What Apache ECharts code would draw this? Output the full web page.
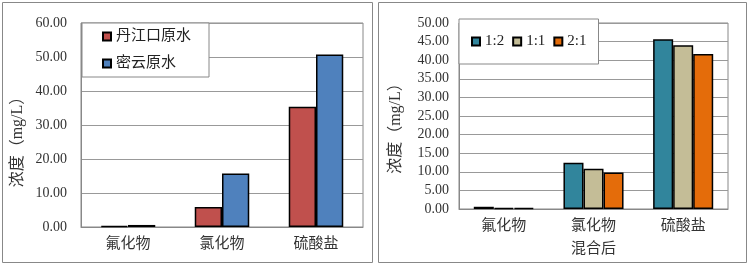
<!DOCTYPE html>
<html>
<head>
<meta charset="utf-8">
<script src="https://cdn.jsdelivr.net/npm/echarts@6/dist/echarts.min.js"></script>
<style>
html, body { margin: 0; padding: 0; background: #fff; }
#main { width: 749px; height: 265px; }
</style>
</head>
<body>
<div id="main"></div>
<script>
// 原水 (left panel)
var categories = ['氟化物', '氯化物', '硫酸盐'];
var rawNames = ['丹江口原水', '密云原水'];
var danjiangkou = [0.3, 5.9, 35.4];
var miyun = [0.6, 15.7, 50.7];
// 混合后 (right panel)
var mixNames = ['1:2', '1:1', '2:1'];
var mix12 = [0.6, 12.4, 45.6];
var mix11 = [0.3, 10.8, 44.0];
var mix21 = [0.3, 9.8, 41.7];

var serif = 'Liberation Serif, DejaVu Serif, Noto Sans CJK SC';
var chart = echarts.init(document.getElementById('main'));

var barStyle = function (c) {
    return {color: c, borderColor: '#000', borderWidth: 1.5};
};

var option = {
    animation: false,
    backgroundColor: '#fff',
    textStyle: {fontFamily: serif},
    graphic: [{
        type: 'rect', shape: {x: 2.5, y: 2.5, width: 370, height: 260},
        style: {fill: 'none', stroke: '#888', lineWidth: 1}, z: -1
    }, {
        type: 'rect', shape: {x: 378.5, y: 2.5, width: 368, height: 260},
        style: {fill: 'none', stroke: '#888', lineWidth: 1}, z: -1
    }],
    grid: [
        {left: 81, right: 386, top: 23, bottom: 38, show: true, borderColor: '#888', borderWidth: 1},
        {left: 459, right: 21, top: 23, bottom: 56, show: true, borderColor: '#888', borderWidth: 1}
    ],
    legend: [{
        data: rawNames,
        orient: 'vertical',
        left: 82, top: 23,
        padding: [6, 18, 6, 20],
        itemGap: 12,
        itemWidth: 8, itemHeight: 8, icon: 'rect',
        backgroundColor: '#fff', borderColor: '#888', borderWidth: 1,
        textStyle: {fontSize: 15, color: '#222', fontFamily: serif}
    }, {
        data: mixNames,
        orient: 'horizontal',
        left: 459, top: 19,
        padding: [15, 12, 15, 12],
        itemGap: 8,
        itemWidth: 8, itemHeight: 8, icon: 'rect',
        backgroundColor: '#fff', borderColor: '#888', borderWidth: 1,
        textStyle: {fontSize: 15, color: '#222', fontFamily: serif}
    }],
    xAxis: [{
        gridIndex: 0, type: 'category', data: categories,
        axisLine: {lineStyle: {color: '#888'}},
        axisTick: {inside: true, length: 4, lineStyle: {color: '#888'}},
        axisLabel: {fontSize: 15, color: '#333', margin: 10}
    }, {
        gridIndex: 1, type: 'category', data: categories,
        name: '混合后', nameLocation: 'middle', nameGap: 33,
        nameTextStyle: {fontSize: 15, color: '#333'},
        axisLine: {lineStyle: {color: '#888'}},
        axisTick: {inside: true, length: 4, lineStyle: {color: '#888'}},
        axisLabel: {fontSize: 15, color: '#333', margin: 10}
    }],
    yAxis: [{
        gridIndex: 0, type: 'value', min: 0, max: 60, interval: 10,
        name: '浓度（mg/L）', nameLocation: 'middle', nameRotate: 90, nameGap: 55,
        nameTextStyle: {fontSize: 16, color: '#333', padding: [0, 26, 0, 0]},
        axisLine: {show: true, lineStyle: {color: '#888'}},
        axisTick: {show: false},
        splitLine: {lineStyle: {color: '#999'}},
        axisLabel: {fontSize: 14, color: '#333', margin: 14,
            formatter: function (v) { return v.toFixed(2); }}
    }, {
        gridIndex: 1, type: 'value', min: 0, max: 50, interval: 5,
        name: '浓度（mg/L）', nameLocation: 'middle', nameRotate: 90, nameGap: 55,
        nameTextStyle: {fontSize: 16, color: '#333', padding: [0, 17, 0, 0]},
        axisLine: {show: true, lineStyle: {color: '#888'}},
        axisTick: {show: false},
        splitLine: {lineStyle: {color: '#999'}},
        axisLabel: {fontSize: 14, color: '#333', margin: 10,
            formatter: function (v) { return v.toFixed(2); }}
    }],
    series: [
        {name: rawNames[0], type: 'bar', xAxisIndex: 0, yAxisIndex: 0, data: danjiangkou,
            barGap: '0%', barCategoryGap: '42%', itemStyle: barStyle('#C0504D')},
        {name: rawNames[1], type: 'bar', xAxisIndex: 0, yAxisIndex: 0, data: miyun,
            barGap: '0%', barCategoryGap: '42%', itemStyle: barStyle('#4F81BD')},
        {name: mixNames[0], type: 'bar', xAxisIndex: 1, yAxisIndex: 1, data: mix12,
            barGap: '0%', barCategoryGap: '33%', itemStyle: barStyle('#31859C')},
        {name: mixNames[1], type: 'bar', xAxisIndex: 1, yAxisIndex: 1, data: mix11,
            barGap: '0%', barCategoryGap: '33%', itemStyle: barStyle('#C4BD97')},
        {name: mixNames[2], type: 'bar', xAxisIndex: 1, yAxisIndex: 1, data: mix21,
            barGap: '0%', barCategoryGap: '33%', itemStyle: barStyle('#E46C0A')}
    ]
};
chart.setOption(option);
</script>
</body>
</html>
